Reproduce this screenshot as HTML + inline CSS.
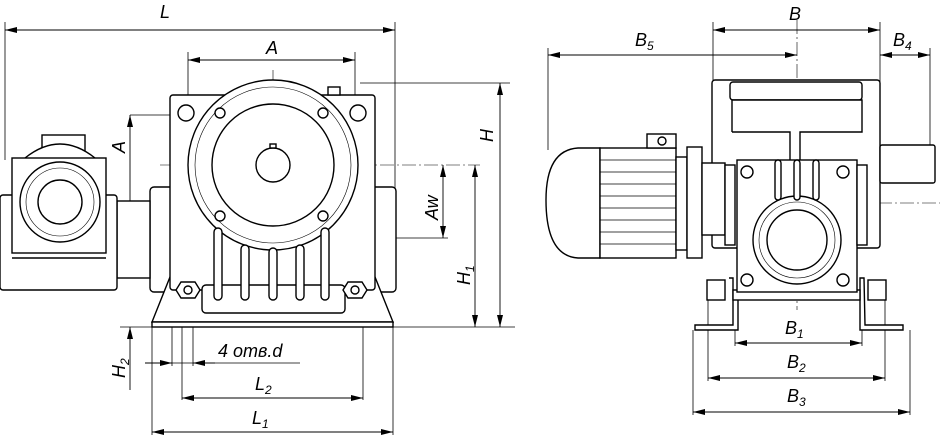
<!DOCTYPE html>
<html><head><meta charset="utf-8"><style>
html,body{margin:0;padding:0;background:#fff}
svg{display:block}
text{font-family:"Liberation Sans",sans-serif;font-style:italic;fill:#000}
</style></head><body>
<svg width="945" height="435" viewBox="0 0 945 435" xmlns="http://www.w3.org/2000/svg">
<defs>
<marker id="a" viewBox="0 0 12 6" refX="12" refY="3" markerWidth="12" markerHeight="6" orient="auto-start-reverse" markerUnits="userSpaceOnUse"><path d="M0,0L12,3L0,6z" fill="#000"/></marker>
</defs>
<g fill="none" stroke="#000" stroke-width="0.8">
<line x1="5" y1="22" x2="5" y2="160"/><line x1="395" y1="22" x2="395" y2="190"/>
<line x1="188" y1="52" x2="188" y2="100"/><line x1="355" y1="52" x2="355" y2="100"/>
<line x1="360" y1="83" x2="510" y2="83"/>
<line x1="130" y1="115" x2="185" y2="115"/>
<line x1="125" y1="277" x2="170" y2="277"/>
<line x1="150" y1="238" x2="448" y2="238"/>
<line x1="120" y1="327" x2="515" y2="327"/>
<line x1="152" y1="327" x2="152" y2="436"/><line x1="393" y1="327" x2="393" y2="436"/>
<line x1="172" y1="322" x2="172" y2="366"/><line x1="182" y1="322" x2="182" y2="400"/><line x1="193" y1="322" x2="193" y2="366"/>
<line x1="363" y1="300" x2="363" y2="400"/>
<line x1="145" y1="363" x2="300" y2="363"/>
</g>
<g stroke="#000" stroke-width="0.9" fill="none" marker-start="url(#a)" marker-end="url(#a)">
<line x1="5" y1="30" x2="395" y2="30"/>
<line x1="188" y1="60" x2="355" y2="60"/>
<line x1="500" y1="83" x2="500" y2="327"/>
<line x1="475" y1="165" x2="475" y2="327"/>
<line x1="443" y1="165" x2="443" y2="238"/>
<line x1="130" y1="115" x2="130" y2="277"/>
<line x1="182" y1="398" x2="363" y2="398"/>
<line x1="152" y1="432" x2="393" y2="432"/>
</g>
<g stroke="#000" stroke-width="0.9" fill="none">
<line x1="130" y1="327" x2="130" y2="390" marker-start="url(#a)"/>
<line x1="145" y1="363" x2="172" y2="363" marker-end="url(#a)"/>
<line x1="215" y1="363" x2="193" y2="363" marker-end="url(#a)"/>
</g>
<g stroke="#000" stroke-width="0.6" stroke-dasharray="14 3 2 3" fill="none">
<line x1="160" y1="165" x2="480" y2="165"/><line x1="273" y1="70" x2="273" y2="325"/>
<line x1="0" y1="202" x2="115" y2="202"/><line x1="60" y1="150" x2="60" y2="255"/>
<line x1="548" y1="203" x2="940" y2="203"/><line x1="797" y1="20" x2="797" y2="310"/>
<line x1="750" y1="240" x2="845" y2="240"/>
</g>
<g fill="#fff" stroke="#000" stroke-width="1.4">
<rect x="150" y="187" width="246" height="105" rx="4"/>
<path d="M170,277 L375,277 L393,322 L152,322 Z"/>
<rect x="152" y="322" width="241" height="5"/>
<rect x="170" y="95" width="205" height="195" rx="3"/>
<rect x="202" y="285" width="143" height="28" rx="4"/>
<circle cx="273" cy="165" r="85"/>
<circle cx="273" cy="165" r="78" stroke-width="0.6"/>
<circle cx="273" cy="165" r="61"/>
<circle cx="273" cy="165" r="17"/>
<rect x="270" y="144" width="6" height="4"/>
<rect x="328" y="87" width="12" height="8"/>
<circle cx="186" cy="113" r="8"/><circle cx="358" cy="113" r="8"/>
<circle cx="220" cy="113" r="5"/><circle cx="323" cy="113" r="5"/>
<circle cx="220" cy="216" r="5"/><circle cx="323" cy="216" r="5"/>
<rect x="214" y="228" width="8" height="72" rx="4"/><rect x="241" y="245" width="8" height="55" rx="4"/>
<rect x="269" y="248" width="8" height="52" rx="4"/><rect x="296" y="245" width="8" height="55" rx="4"/>
<rect x="321" y="228" width="8" height="72" rx="4"/>
<polygon points="181,282 195,282 200,290 195,298 181,298 176,290"/><circle cx="188" cy="290" r="4"/>
<polygon points="348,282 362,282 367,290 362,298 348,298 343,290"/><circle cx="355" cy="290" r="4"/>
<rect x="117" y="201" width="33" height="77"/>
<rect x="0" y="195" width="117" height="95" rx="3"/>
<rect x="42" y="135" width="43" height="23"/>
<path d="M25,158 Q60,130 95,158"/>
<rect x="12" y="158" width="94" height="95"/>
<circle cx="60" cy="202" r="40"/>
<circle cx="60" cy="202" r="34" stroke-width="0.6"/>
<circle cx="60" cy="202" r="22"/>
<line x1="12" y1="258" x2="106" y2="258"/>
</g>
<text x="160" y="18" font-size="18">L</text>
<text x="266" y="54" font-size="18">A</text>
<text x="493" y="142" font-size="18" transform="rotate(-90 493 142)">H</text>
<text x="125" y="153" font-size="18" transform="rotate(-90 125 153)">A</text>
<text x="438" y="220" font-size="18" transform="rotate(-90 438 220)">Aw</text>
<text x="470" y="285" font-size="18" transform="rotate(-90 470 285)">H<tspan font-size="12" dy="4">1</tspan></text>
<text x="125" y="378" font-size="18" transform="rotate(-90 125 378)">H<tspan font-size="12" dy="4">2</tspan></text>
<text x="218" y="357" font-size="18">4 отв.d</text>
<text x="255" y="390" font-size="18">L<tspan font-size="12" dy="4">2</tspan></text>
<text x="252" y="424" font-size="18">L<tspan font-size="12" dy="4">1</tspan></text>
<g fill="none" stroke="#000" stroke-width="0.8">
<line x1="713" y1="22" x2="713" y2="80"/><line x1="880" y1="22" x2="880" y2="145"/>
<line x1="548" y1="48" x2="548" y2="150"/><line x1="930" y1="48" x2="930" y2="145"/>
<line x1="735" y1="300" x2="735" y2="346"/><line x1="862" y1="300" x2="862" y2="346"/>
<line x1="708" y1="300" x2="708" y2="381"/><line x1="885" y1="300" x2="885" y2="381"/>
<line x1="693" y1="330" x2="693" y2="415"/><line x1="910" y1="330" x2="910" y2="415"/>
</g>
<g stroke="#000" stroke-width="0.9" fill="none" marker-start="url(#a)" marker-end="url(#a)">
<line x1="713" y1="30" x2="880" y2="30"/>
<line x1="548" y1="55" x2="797" y2="55"/>
<line x1="880" y1="55" x2="930" y2="55"/>
<line x1="735" y1="343" x2="862" y2="343"/>
<line x1="708" y1="378" x2="885" y2="378"/>
<line x1="693" y1="412" x2="910" y2="412"/>
</g>
<g fill="#fff" stroke="#000" stroke-width="1.4">
<rect x="712" y="80" width="168" height="168" rx="3"/>
<rect x="730" y="82" width="132" height="18" rx="3"/>
<path d="M732,132 L732,100 L862,100 L862,132 L800,132 L800,160 M732,132 L790,132 L790,160"/>
<rect x="880" y="145" width="55" height="38" rx="2"/>
<path d="M600,148 L578,148 Q546,150 546,200 Q546,256 578,258 L600,258 Z"/>
<rect x="600" y="148" width="76" height="110"/>
<rect x="647" y="134" width="29" height="14"/><circle cx="662" cy="141" r="4"/>
<rect x="676" y="157" width="11" height="93"/>
<rect x="687" y="147" width="15" height="111"/>
<rect x="702" y="163" width="23" height="72"/>
<rect x="725" y="165" width="10" height="80"/>
<path d="M729,278 L733,278 L733,325 L695,325 L695,330 L738,330 L738,278"/>
<path d="M864,278 L860,278 L860,330 L903,330 L903,325 L865,325 Z"/>
<rect x="733" y="290" width="127" height="10"/>
<rect x="737" y="160" width="120" height="132"/>
<circle cx="797" cy="240" r="44"/>
<circle cx="797" cy="240" r="38" stroke-width="0.6"/>
<circle cx="797" cy="240" r="30"/>
<circle cx="747" cy="172" r="6"/><circle cx="843" cy="172" r="6"/>
<circle cx="747" cy="280" r="6"/><circle cx="843" cy="280" r="6"/>
<rect x="775" y="160" width="6" height="40" rx="3"/><rect x="794" y="160" width="6" height="40" rx="3"/><rect x="813" y="160" width="6" height="40" rx="3"/>
<rect x="857" y="165" width="10" height="80"/>
<rect x="707" y="280" width="18" height="20"/><rect x="868" y="280" width="18" height="20"/>
</g>
<g stroke="#000" stroke-width="0.8">
<line x1="600" y1="160" x2="676" y2="160"/><line x1="600" y1="172" x2="676" y2="172"/><line x1="600" y1="184" x2="676" y2="184"/>
<line x1="600" y1="196" x2="676" y2="196"/><line x1="600" y1="208" x2="676" y2="208"/><line x1="600" y1="220" x2="676" y2="220"/>
<line x1="600" y1="232" x2="676" y2="232"/><line x1="600" y1="244" x2="676" y2="244"/>
</g>
<text x="789" y="20" font-size="18">B</text>
<text x="635" y="46" font-size="18">B<tspan font-size="12" dy="4">5</tspan></text>
<text x="893" y="46" font-size="18">B<tspan font-size="12" dy="4">4</tspan></text>
<text x="785" y="334" font-size="18">B<tspan font-size="12" dy="4">1</tspan></text>
<text x="787" y="368" font-size="18">B<tspan font-size="12" dy="4">2</tspan></text>
<text x="787" y="402" font-size="18">B<tspan font-size="12" dy="4">3</tspan></text>
</svg>
</body></html>
